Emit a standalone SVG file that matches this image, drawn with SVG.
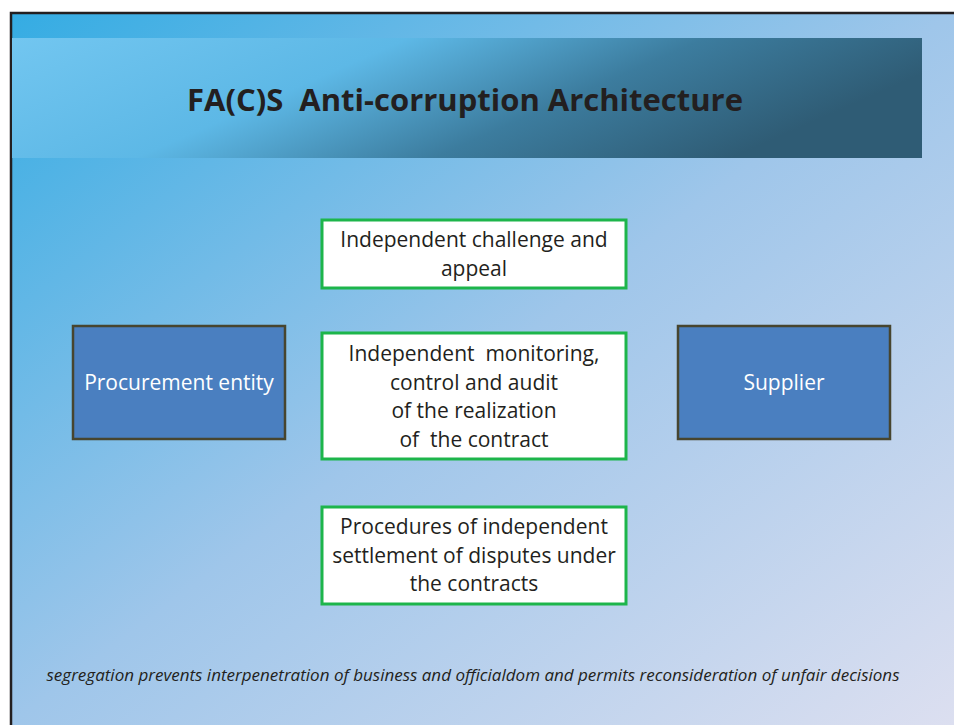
<svg xmlns="http://www.w3.org/2000/svg" width="954" height="725" viewBox="0 0 954 725">
<defs>
<linearGradient id="bg" x1="0" y1="0" x2="1" y2="1">
<stop offset="0" stop-color="#34ace3"/>
<stop offset="0.5" stop-color="#9fc6ea"/>
<stop offset="1" stop-color="#dcdff0"/>
</linearGradient>
<linearGradient id="ban" x1="0" y1="0" x2="1" y2="0.3">
<stop offset="0" stop-color="#72c6f0"/>
<stop offset="0.4" stop-color="#5db8e6"/>
<stop offset="0.7" stop-color="#3c7c9e"/>
<stop offset="1" stop-color="#2f5c75"/>
</linearGradient>
<style>
.t{font-family:"Open Sans","Noto Sans",sans-serif;font-size:21px;fill:#231f20;text-anchor:middle}
.w{font-family:"Open Sans","Noto Sans",sans-serif;font-size:21px;fill:#ffffff;text-anchor:middle}
.g{fill:#ffffff;stroke:#1db54b;stroke-width:3}
.b{fill:#4a7fc0;stroke:#47452f;stroke-width:2.5}
</style>
</defs>
<rect x="0" y="0" width="954" height="725" fill="#ffffff"/>
<rect x="10" y="12" width="944" height="713" fill="url(#bg)"/>
<path d="M11 725 V13 H954" fill="none" stroke="#231f20" stroke-width="2.5"/>
<g id="title">
<rect x="12" y="38" width="910" height="120" fill="url(#ban)"/>
<text x="465" y="111" font-family="'Open Sans','Noto Sans',sans-serif" font-size="31" font-weight="bold" fill="#231f20" text-anchor="middle" xml:space="preserve">FA(C)S  Anti-corruption Architecture</text>
</g>
<g id="connectors"></g>
<g id="procurement">
<rect class="b" x="73" y="326" width="212" height="113"/>
<text class="w" x="179" y="390">Procurement entity</text>
</g>
<g id="supplier">
<rect class="b" x="678" y="326" width="212" height="113"/>
<text class="w" x="784" y="390">Supplier</text>
</g>
<g id="challenge">
<rect class="g" x="322" y="220" width="304" height="68"/>
<text class="t" x="474" y="247">Independent challenge and</text>
<text class="t" x="474" y="276">appeal</text>
</g>
<g id="monitoring">
<rect class="g" x="322" y="333" width="304" height="126"/>
<text class="t" x="474" y="361" xml:space="preserve">Independent  monitoring,</text>
<text class="t" x="474" y="390">control and audit</text>
<text class="t" x="474" y="418">of the realization</text>
<text class="t" x="474" y="447" xml:space="preserve">of  the contract</text>
</g>
<g id="disputes">
<rect class="g" x="322" y="507" width="304" height="97"/>
<text class="t" x="474" y="534">Procedures of independent</text>
<text class="t" x="474" y="563">settlement of disputes under</text>
<text class="t" x="474" y="591">the contracts</text>
</g>
<text x="473" y="681" font-family="'Open Sans','Noto Sans',sans-serif" font-size="17" font-style="italic" fill="#231f20" text-anchor="middle">segregation prevents interpenetration of business and officialdom and permits reconsideration of unfair decisions</text>
</svg>
